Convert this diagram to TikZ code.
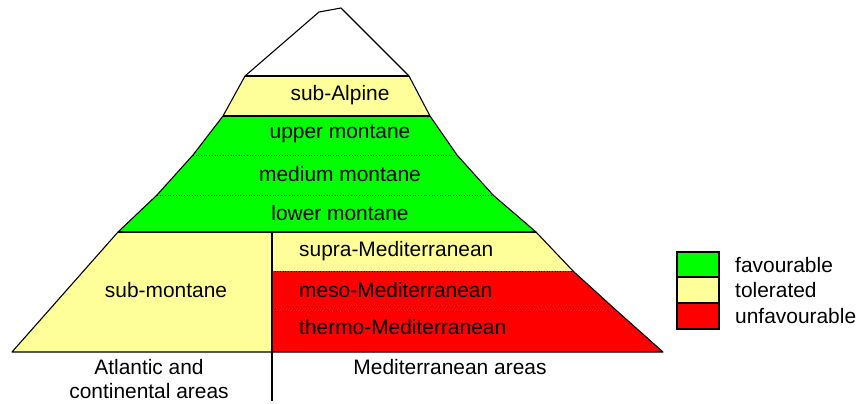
\documentclass[tikz,border=0pt]{standalone}
\usepackage{fontspec}
\setmainfont{Liberation Sans}
\definecolor{fav}{HTML}{00FF00}
\definecolor{tol}{HTML}{FFFF99}
\definecolor{unf}{HTML}{FF0000}
\begin{document}
\begin{tikzpicture}[x=1bp,y=-1bp,
  lbl/.style={font=\fontsize{21}{23.5}\selectfont, inner sep=0pt, text=black},
  outl/.style={line width=1.1bp, line join=round},
  dots/.style={line width=0.7bp, dotted},
  legbox/.style={draw=black, line width=1.6bp}]
\useasboundingbox (0,0) rectangle (861,403);
% coordinates of edges
\coordinate (L0) at (245,76);
\coordinate (L1) at (223,116);
\coordinate (L2) at (193,155);
\coordinate (L3) at (157,195);
\coordinate (L4) at (118,232);
\coordinate (L5) at (12,352);
\coordinate (R0) at (409,76);
\coordinate (R1) at (430,116);
\coordinate (R2) at (457,155);
\coordinate (R3) at (493,195);
\coordinate (R4) at (536,232);
\coordinate (R5) at (573,271);
\coordinate (R6) at (617,311);
\coordinate (R7) at (663,352);
\coordinate (M4) at (272,232);
\coordinate (M5) at (272,271);
\coordinate (M6) at (272,311);
\coordinate (M7) at (272,352);
\coordinate (MB) at (272,401);
\coordinate (P1) at (319,12);
\coordinate (P2) at (341,8);
% fills
\fill[tol] (L0) -- (R0) -- (R1) -- (L1) -- cycle;
\fill[fav] (L1) -- (R1) -- (R2) -- (R3) -- (R4) -- (L4) -- (L3) -- (L2) -- cycle;
\fill[tol] (L4) -- (M4) -- (M7) -- (L5) -- cycle;
\fill[tol] (M4) -- (R4) -- (R5) -- (M5) -- cycle;
\fill[unf] (M5) -- (R5) -- (R6) -- (R7) -- (M7) -- cycle;
% dotted separators
\draw[dots] (L2) -- (R2);
\draw[dots] (L3) -- (R3);
\draw[dots] (M5) -- (R5);
\draw[dots] (M6) -- (R6);
% solid lines
\draw[outl] (L0) -- (R0);
\draw[outl] (L1) -- (R1);
\draw[outl] (L4) -- (R4);
\draw[outl] (M4) -- (MB);
\draw[outl] (R7) -- (R6) -- (R5) -- (R4) -- (R3) -- (R2) -- (R1) -- (R0) -- (P2) -- (P1) -- (L0) -- (L1) -- (L2) -- (L3) -- (L4) -- (L5) -- cycle;
% labels
\node[lbl] (subalp) at (340,95) {sub-Alpine};
\node[lbl] (upmont) at (340,134) {upper montane};
\node[lbl] (medmont) at (340,174) {medium montane};
\node[lbl] (lowmont) at (340,213) {lower montane};
\node[lbl] (submont) at (166,290) {sub-montane};
\node[lbl, anchor=west] (supra) at (299,251) {supra-Mediterranean};
\node[lbl, anchor=west] (meso) at (299,290) {meso-Mediterranean};
\node[lbl, anchor=west] (thermo) at (299,327.5) {thermo-Mediterranean};
\node[lbl] (medareas) at (450,367) {Mediterranean areas};
\node[lbl, align=center] (atl) at (149,379) {Atlantic and\\continental areas};
% legend
\node[legbox, fill=fav, minimum width=42bp, minimum height=25bp, inner sep=0pt] (lg1) at (698,264.5) {};
\node[legbox, fill=tol, minimum width=42bp, minimum height=26bp, inner sep=0pt] (lg2) at (698,290) {};
\node[legbox, fill=unf, minimum width=42bp, minimum height=26bp, inner sep=0pt] (lg3) at (698,316) {};
\node[lbl, anchor=west] (t1) at (735,265) {favourable};
\node[lbl, anchor=west] (t2) at (735,290) {tolerated};
\node[lbl, anchor=west] (t3) at (735,316) {unfavourable};
\end{tikzpicture}
\end{document}
